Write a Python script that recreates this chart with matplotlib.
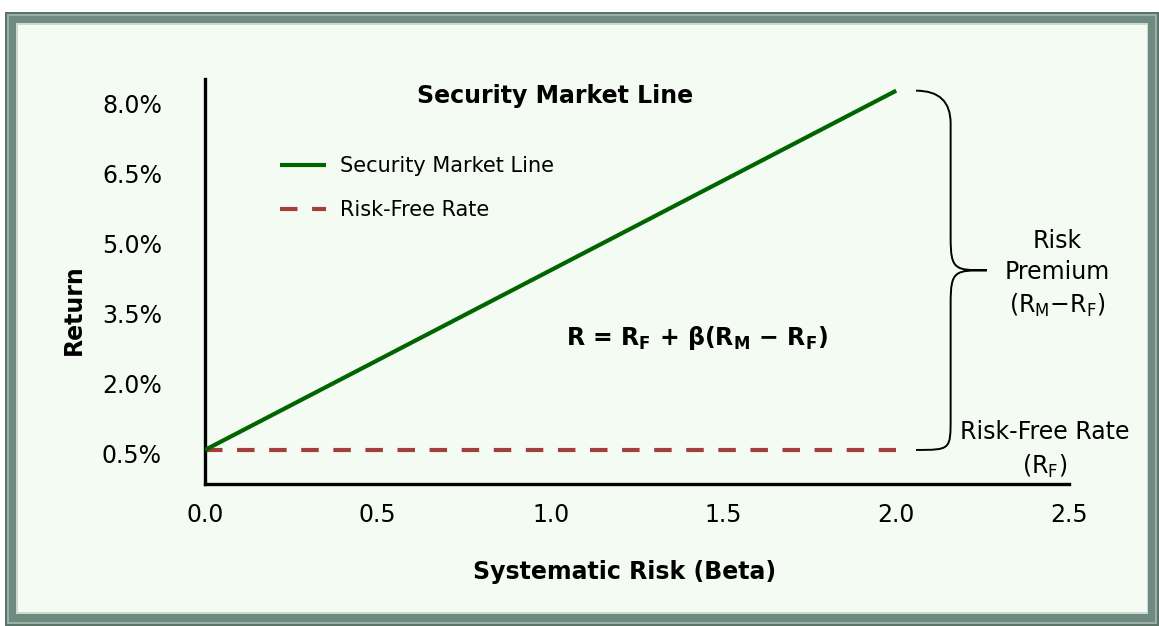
"""
Security Market Line chart
"""

import matplotlib

matplotlib.use("Agg")
import matplotlib.pyplot as plt
from matplotlib.patches import Rectangle, PathPatch
from matplotlib.path import Path
from matplotlib.transforms import blended_transform_factory, ScaledTranslation

# data
beta = [0.0, 2.0]
sml_return = [0.5, 8.2]
rf_return = [0.5, 0.5]
y_ticks = [0.5, 2.0, 3.5, 5.0, 6.5, 8.0]
x_ticks = [0.0, 0.5, 1.0, 1.5, 2.0, 2.5]

W, H = 1159, 626
BG = "#f4fbf2"

fig = plt.figure(figsize=(W / 100, H / 100), dpi=100, facecolor="white")


def px_rect(x0, y0, x1, y1, color):
    # прямоугольник в пикселях (от левого верхнего угла)
    r = Rectangle(
        (x0 / W, 1 - y1 / H),
        (x1 - x0) / W,
        (y1 - y0) / H,
        transform=fig.transFigure,
        facecolor=color,
        edgecolor="none",
        zorder=-10,
    )
    fig.patches.append(r)


# рамка
px_rect(5, 12, 1159, 626, "#5a746a")
px_rect(7, 14, 1157, 624, "#9ab0a7")
px_rect(9, 16, 1155, 622, "#6f8b81")
px_rect(16, 23, 1148, 614, "#cdd9d3")
px_rect(18, 25, 1147, 612, BG)

ax = fig.add_axes([205 / W, 1 - 484 / H, 864 / W, 405 / H])
ax.set_facecolor("none")

ax.plot(beta, sml_return, color="#006400", lw=3, solid_capstyle="butt",
        label="Security Market Line", zorder=3)
(rf_line,) = ax.plot(beta, rf_return, color="#a23f3c", lw=3, label="Risk-Free Rate",
                     zorder=2)
rf_line.set_dashes([4.2, 3.5])

ax.set_xlim(0, 2.5)
ax.set_ylim(-0.23, 8.45)
ax.set_xticks(x_ticks)
ax.set_xticklabels([f"{v:.1f}" for v in x_ticks])
ax.set_yticks(y_ticks)
ax.set_yticklabels([f"{v:.1f}%" for v in y_ticks])
ax.tick_params(axis="both", length=0, labelsize=17)
ax.tick_params(axis="y", pad=31)
ax.tick_params(axis="x", pad=14)

# подписи по оси Y чуть ниже отметок
shift = ScaledTranslation(0, -4 / 100, fig.dpi_scale_trans)
for lbl in ax.get_yticklabels():
    lbl.set_transform(lbl.get_transform() + shift)

for side in ["top", "right"]:
    ax.spines[side].set_visible(False)
for side in ["left", "bottom"]:
    ax.spines[side].set_linewidth(2.4)
    ax.spines[side].set_color("black")

ax.set_xlabel("Systematic Risk (Beta)", fontsize=17, fontweight="bold")
ax.xaxis.set_label_coords(0.486, -0.188)
ax.set_ylabel("Return", fontsize=17, fontweight="bold")
ax.yaxis.set_label_coords(-0.138, 0.43)

ax.text(0.405, 0.958, "Security Market Line", transform=ax.transAxes,
        ha="center", va="center", fontsize=17, fontweight="bold")

ax.legend(loc="upper left", bbox_to_anchor=(0.077, 0.83), frameon=False,
          fontsize=15, handlelength=2.2, handletextpad=0.7, labelspacing=1.15,
          borderaxespad=0)

ax.text(0.569, 0.36,
        r"R = R$_\mathbf{F}$ + β(R$_\mathbf{M}$ − R$_\mathbf{F}$)",
        transform=ax.transAxes, ha="center", va="center",
        fontsize=17, fontweight="bold")

# фигурная скобка справа
tr = blended_transform_factory(ax.transAxes, ax.transData)
top = sml_return[-1]
bot = rf_return[-1]
mid = (top + bot) / 2
x0, x1, x2 = 0.823, 0.863, 0.905
c = 0.7
verts = [
    (x0, top), (x1, top), (x1, top - c),
    (x1, mid + c),
    (x1, mid), (x1 + 0.005, mid), (x2, mid),
    (x1 + 0.005, mid), (x1, mid), (x1, mid - c),
    (x1, bot + c),
    (x1, bot), (x1, bot), (x0, bot),
]
codes = [
    Path.MOVETO, Path.CURVE3, Path.CURVE3,
    Path.LINETO,
    Path.CURVE4, Path.CURVE4, Path.CURVE4,
    Path.CURVE4, Path.CURVE4, Path.CURVE4,
    Path.LINETO,
    Path.CURVE4, Path.CURVE4, Path.CURVE4,
]
brace = PathPatch(Path(verts, codes), transform=tr, facecolor="none",
                  edgecolor="black", lw=1.4, clip_on=False)
ax.add_patch(brace)

ax.text(0.986, mid - 0.08,
        "Risk\nPremium\n" + r"(R$_\mathregular{M}$−R$_\mathregular{F}$)",
        transform=tr, ha="center", va="center", fontsize=17, linespacing=1.38)
ax.text(0.972, bot, "Risk-Free Rate\n" + r"(R$_\mathregular{F}$)",
        transform=tr, ha="center", va="center", fontsize=17, linespacing=1.45)

fig.savefig("out.png", dpi=100, facecolor=fig.get_facecolor())
